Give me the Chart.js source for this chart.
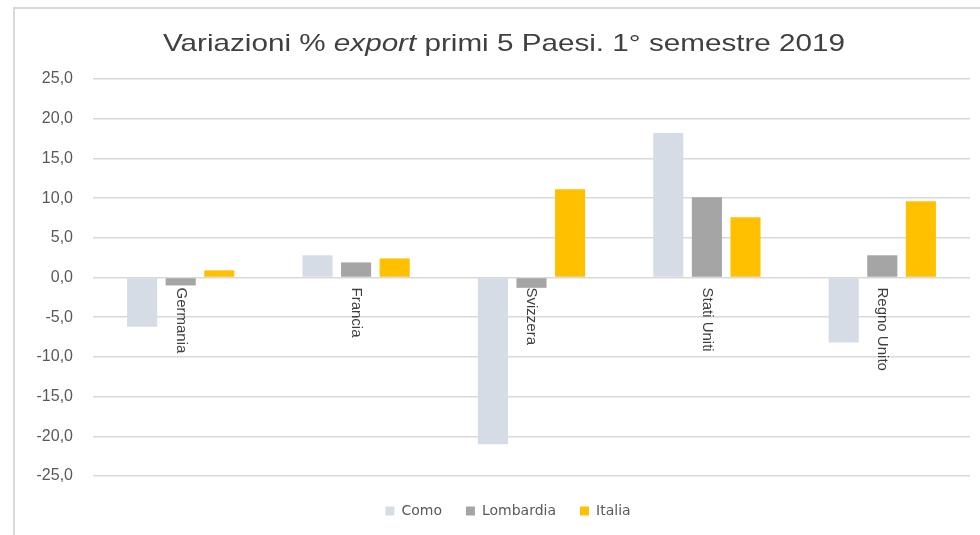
<!DOCTYPE html>
<html>
<head>
<meta charset="utf-8">
<script src="https://cdn.jsdelivr.net/npm/chart.js@4/dist/chart.umd.min.js"></script>
<style>
  html, body { margin: 0; padding: 0; background: #ffffff; }
  #wrap { position: relative; width: 980px; height: 535px; }
</style>
</head>
<body>
<div id="wrap"><canvas id="c" width="980" height="535"></canvas></div>
<script>
const categories = ["Germania", "Francia", "Svizzera", "Stati Uniti", "Regno Unito"];
const seriesNames = ["Como", "Lombardia", "Italia"];
const como = [-6.2, 2.8, -21.0, 18.2, -8.2];
const lombardia = [-1.0, 1.9, -1.3, 10.1, 2.8];
const italia = [0.9, 2.4, 11.1, 7.6, 9.6];
const yTicks = [-25, -20, -15, -10, -5, 0, 5, 10, 15, 20, 25];
const titleParts = [["Variazioni % ", false], ["export", true], [" primi 5 Paesi. 1° semestre 2019", false]];

const colors = ["#D6DCE5", "#A5A5A5", "#FFC000"];

const framePlugin = {
  id: "frame",
  beforeDraw(chart) {
    const ctx = chart.ctx;
    ctx.save();
    ctx.strokeStyle = "#D9D9D9";
    ctx.lineWidth = 2;
    ctx.beginPath();
    ctx.moveTo(14, 535);
    ctx.lineTo(14, 8);
    ctx.lineTo(980, 8);
    ctx.stroke();
    ctx.restore();
  }
};

const legendShiftPlugin = {
  id: "legendShift",
  afterLayout(chart) {
    if (chart.legend) {
      chart.legend.left += 23;
      chart.legend.right += 23;
    }
  }
};

const titlePlugin = {
  id: "richTitle",
  afterDraw(chart) {
    const ctx = chart.ctx;
    ctx.save();
    const size = 24;
    let total = 0;
    const widths = titleParts.map(([t, it]) => {
      ctx.font = (it ? "italic " : "") + size + "px 'Liberation Sans', Arial, sans-serif";
      const w = ctx.measureText(t).width;
      total += w;
      return w;
    });
    const targetW = 682;
    const sx = targetW / total;
    const cx = 504;
    ctx.translate(cx - targetW / 2, 44);
    ctx.scale(sx, 1);
    ctx.fillStyle = "#404040";
    ctx.textBaseline = "middle";
    ctx.textAlign = "left";
    let x = 0;
    titleParts.forEach(([t, it], i) => {
      ctx.font = (it ? "italic " : "") + size + "px 'Liberation Sans', Arial, sans-serif";
      ctx.fillText(t, x, 0);
      x += widths[i];
    });
    ctx.restore();
  }
};

const catLabelPlugin = {
  id: "catLabels",
  afterDatasetsDraw(chart) {
    const ctx = chart.ctx;
    const xs = chart.scales.x;
    const ys = chart.scales.y;
    const y0 = ys.getPixelForValue(0) + 10;
    ctx.save();
    ctx.fillStyle = "#404040";
    ctx.font = "15px 'Liberation Sans', Arial, sans-serif";
    ctx.textAlign = "left";
    ctx.textBaseline = "middle";
    categories.forEach((c, i) => {
      const x = xs.getPixelForValue(i);
      ctx.save();
      ctx.translate(x, y0);
      ctx.rotate(Math.PI / 2);
      ctx.fillText(c, 0, 0);
      ctx.restore();
    });
    ctx.restore();
  }
};

const datasets = [como, lombardia, italia].map((d, i) => ({
  label: seriesNames[i],
  data: d,
  backgroundColor: colors[i],
  borderWidth: 0,
  categoryPercentage: 0.66,
  barPercentage: 0.78
}));

new Chart(document.getElementById("c"), {
  type: "bar",
  data: { labels: categories, datasets },
  options: {
    responsive: false,
    animation: false,
    devicePixelRatio: 1,
    layout: { padding: { top: 79, right: 10, bottom: 7, left: 0 } },
    plugins: {
      title: { display: false },
      tooltip: { enabled: false },
      legend: {
        position: "bottom",
        labels: {
          boxWidth: 9,
          boxHeight: 9,
          padding: 24,
          color: "#595959",
          font: { family: "'DejaVu Sans', sans-serif", size: 14 }
        }
      }
    },
    scales: {
      x: {
        grid: { display: false },
        border: { display: false },
        ticks: { display: false },
        afterFit: (s) => { s.height = 4; }
      },
      y: {
        min: -25,
        max: 25,
        afterBuildTicks: (s) => { s.ticks = yTicks.map(v => ({ value: v })); },
        afterFit: (s) => { s.width = 93; },
        border: { display: false },
        grid: { color: "#D9D9D9", lineWidth: 1.5, drawTicks: false },
        ticks: {
          padding: 20,
          color: "#595959",
          font: { family: "'Liberation Sans', Arial, sans-serif", size: 16 },
          callback: (v) => v.toFixed(1).replace(".", ",")
        }
      }
    }
  },
  plugins: [framePlugin, legendShiftPlugin, titlePlugin, catLabelPlugin]
});
</script>
</body>
</html>
